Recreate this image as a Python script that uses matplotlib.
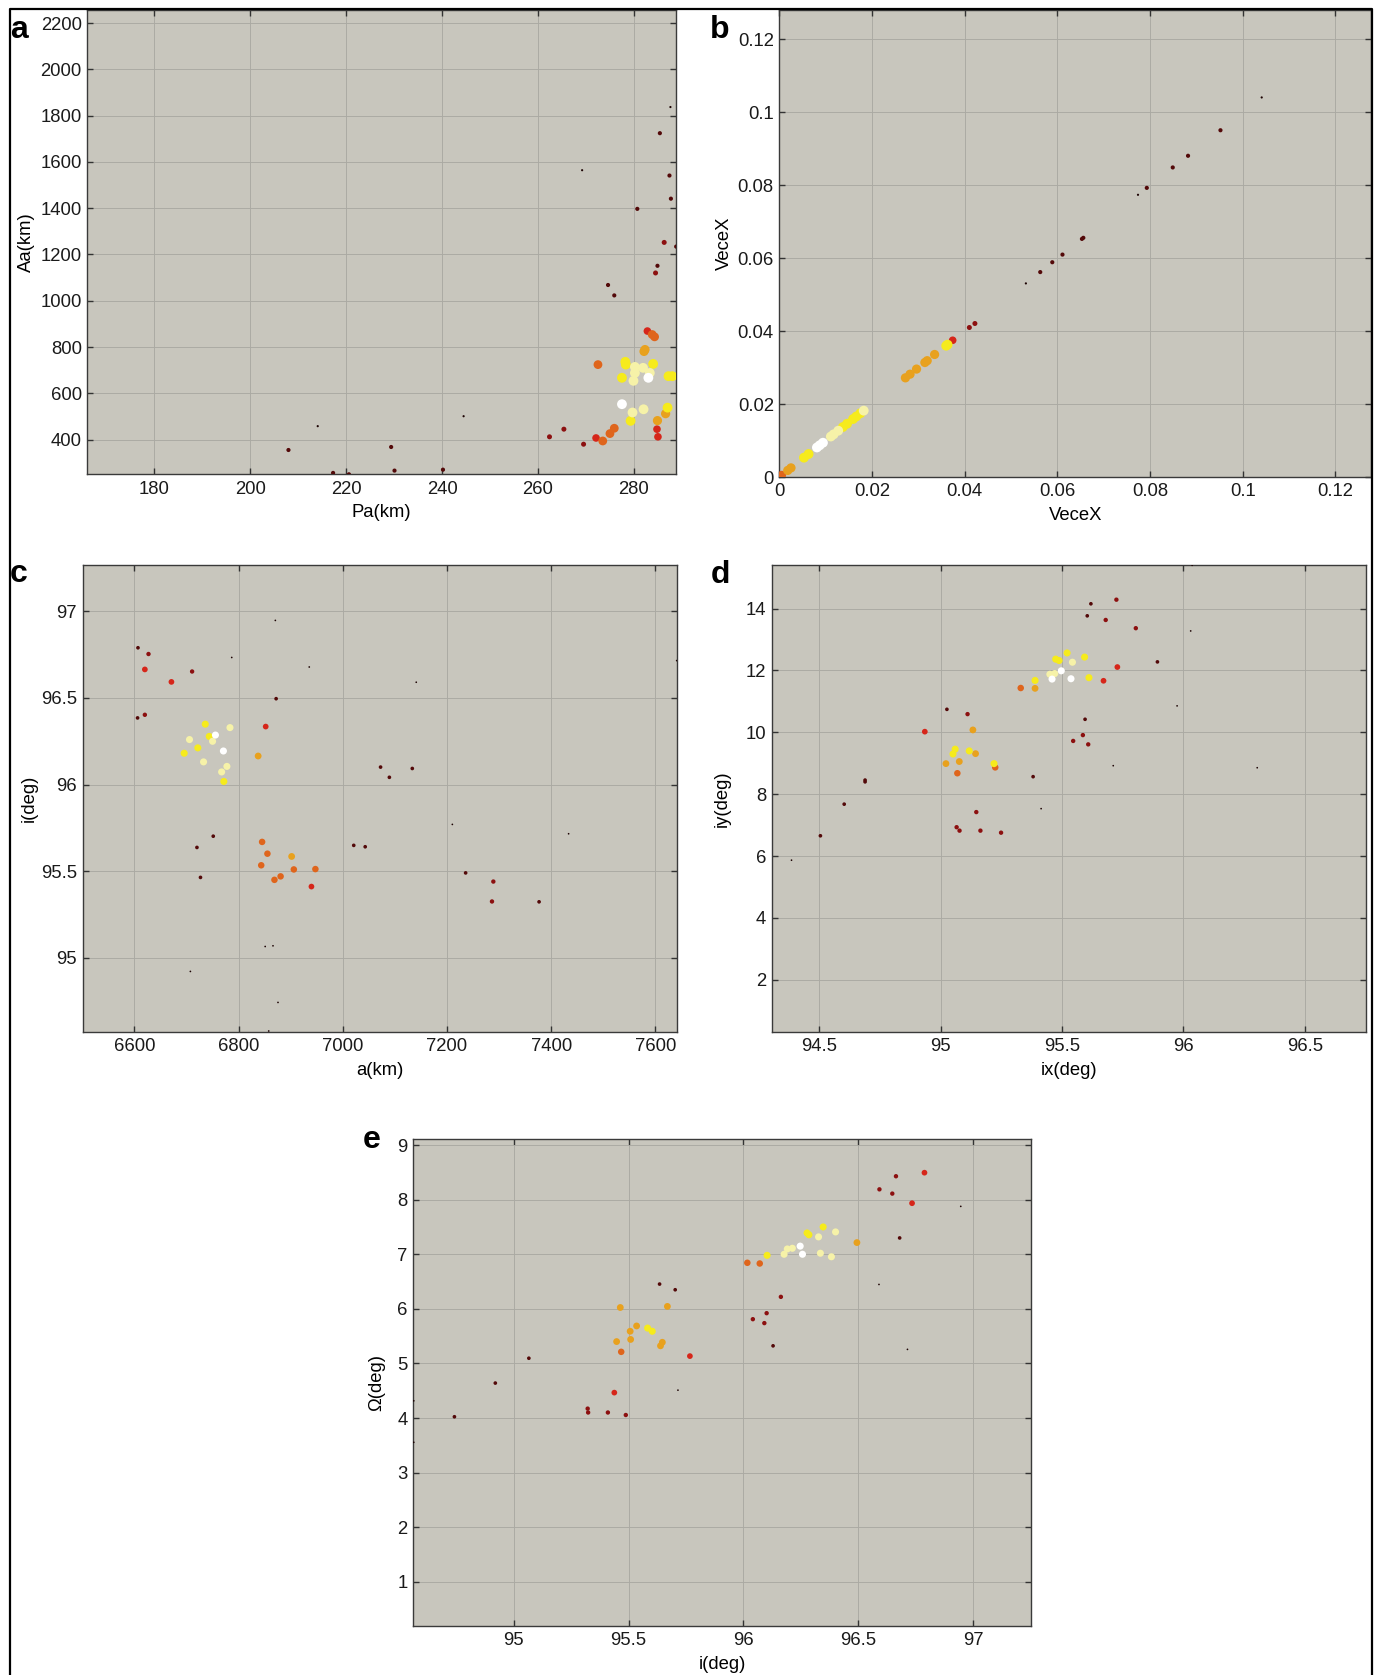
import matplotlib
matplotlib.use("Agg")
import matplotlib.pyplot as plt
from matplotlib.lines import Line2D
import numpy as np

plt.rcParams['font.family'] = ['Liberation Sans', 'DejaVu Sans']

# ---------------- data ----------------
# level: 0 = tiny black ... 8 = white (hot-like colour scale)
a_pa = [287.6, 285.4, 269.2, 287.4, 287.7, 280.7, 286.3, 288.8, 284.9, 284.5, 274.6, 275.9,
        282.8, 283.8, 284.3, 282.1, 282.3, 272.5, 278.2, 278.3, 284.0, 280.2, 281.9, 280.2,
        283.3, 277.5, 283.0, 279.9, 287.2, 288.0, 277.5, 279.7, 282.0, 279.3, 287.0, 286.6,
        284.9, 284.8, 285.0, 275.9, 275.0, 273.5, 272.1, 269.5, 265.4, 262.4, 244.5, 240.2,
        230.1, 229.4, 214.1, 208.0, 217.3, 220.6]
a_aa = [1837, 1724, 1564, 1541, 1441, 1397, 1252, 1234, 1151, 1120, 1068, 1023,
        869, 854, 844, 781, 789, 724, 736, 724, 727, 714, 710, 688,
        688, 667, 667, 654, 674, 674, 553, 517, 531, 481, 538, 512,
        482, 445, 412, 449, 426, 394, 407, 380, 445, 412, 501, 270,
        266, 368, 458, 355, 256, 250]
a_lvl = [0, 1, 0, 1, 1, 1, 2, 1, 1, 2, 1, 1,
         3, 4, 4, 5, 5, 4, 6, 6, 6, 7, 7, 7,
         7, 6, 8, 7, 6, 6, 8, 7, 7, 6, 6, 5,
         5, 3, 3, 4, 4, 4, 3, 2, 2, 2, 0, 1,
         1, 1, 0, 1, 1, 1]

b_vx = [0.1041, 0.0952, 0.0882, 0.0849, 0.0793, 0.0774, 0.0656, 0.0653, 0.0611, 0.0589,
        0.0563, 0.0532, 0.0422, 0.0410, 0.0374, 0.0363, 0.0360, 0.0335, 0.0319, 0.0314,
        0.0296, 0.0282, 0.0272, 0.0182, 0.0175, 0.0166, 0.0159, 0.0146, 0.0137, 0.0127,
        0.0117, 0.0111, 0.0094, 0.0087, 0.0081, 0.0063, 0.0053, 0.0025, 0.0018, 0.0005]
b_vy = [0.1041, 0.0951, 0.0881, 0.0849, 0.0793, 0.0774, 0.0656, 0.0653, 0.0610, 0.0589,
        0.0562, 0.0531, 0.0421, 0.0410, 0.0375, 0.0363, 0.0360, 0.0336, 0.0319, 0.0314,
        0.0296, 0.0282, 0.0272, 0.0182, 0.0175, 0.0166, 0.0159, 0.0146, 0.0137, 0.0127,
        0.0117, 0.0111, 0.0094, 0.0087, 0.0081, 0.0063, 0.0053, 0.0025, 0.0018, 0.0005]
b_lvl = [0, 1, 1, 1, 1, 0, 1, 1, 1, 1,
         1, 0, 2, 2, 3, 6, 6, 5, 5, 5,
         5, 5, 5, 7, 6, 6, 6, 6, 6, 7,
         7, 7, 8, 8, 8, 6, 6, 5, 5, 4]

c_a = [6870.5, 6606.8, 6627.0, 6620.0, 6710.7, 6671.0, 6786.8, 6935.6, 7141.0, 6872.0,
       6606.0, 6620.0, 6852.0, 6736.0, 6755.5, 6783.4, 6743.6, 6750.0, 6705.7, 6721.7,
       6770.8, 6695.5, 6837.5, 6732.7, 6777.5, 6767.4, 6771.6, 7072.5, 7089.4, 7133.4,
       7210.3, 7433.5, 6751.3, 6720.0, 6726.8, 6845.1, 6855.3, 6843.4, 6901.8, 6906.0,
       6880.6, 6868.8, 6947.4, 6939.8, 7021.0, 7043.0, 7235.8, 7289.0, 7286.4, 7376.8,
       6851.0, 6866.0, 6707.4, 6875.6, 6857.8, 7641.0]
c_i = [96.948, 96.790, 96.754, 96.665, 96.653, 96.593, 96.734, 96.679, 96.591, 96.496,
       96.385, 96.403, 96.335, 96.349, 96.286, 96.329, 96.278, 96.250, 96.260, 96.212,
       96.194, 96.181, 96.165, 96.131, 96.105, 96.073, 96.018, 96.101, 96.042, 96.093,
       95.770, 95.716, 95.702, 95.637, 95.464, 95.669, 95.601, 95.534, 95.585, 95.510,
       95.470, 95.450, 95.512, 95.411, 95.649, 95.641, 95.490, 95.440, 95.325, 95.323,
       95.065, 95.069, 94.921, 94.742, 94.577, 96.716]
c_lvl = [0, 1, 2, 3, 2, 3, 0, 0, 0, 1,
         1, 2, 3, 6, 8, 7, 6, 7, 7, 6,
         8, 6, 5, 7, 7, 7, 6, 1, 1, 1,
         0, 0, 1, 1, 1, 4, 4, 4, 5, 4,
         4, 4, 4, 3, 1, 1, 1, 2, 2, 1,
         0, 0, 0, 0, 0, 0]

d_ix = [95.619, 95.724, 95.604, 95.680, 95.804, 96.030, 95.893, 95.728, 95.671, 95.521,
        95.593, 95.474, 95.488, 95.543, 95.497, 95.470, 95.450, 95.459, 95.537, 95.611,
        95.389, 95.389, 95.330, 95.026, 95.111, 94.935, 95.133, 95.974, 95.595, 95.586,
        95.546, 95.608, 95.060, 95.051, 95.118, 95.144, 95.077, 95.022, 95.220, 95.225,
        95.069, 95.711, 96.304, 95.381, 94.689, 94.689, 94.603, 95.414, 95.147, 95.066,
        95.078, 95.164, 95.249, 94.505, 94.386, 96.036]
d_iy = [14.156, 14.289, 13.767, 13.633, 13.367, 13.278, 12.278, 12.111, 11.667, 12.567,
        12.433, 12.367, 12.322, 12.267, 11.989, 11.900, 11.878, 11.722, 11.733, 11.767,
        11.678, 11.422, 11.433, 10.744, 10.589, 10.022, 10.078, 10.856, 10.422, 9.911,
        9.722, 9.611, 9.456, 9.300, 9.400, 9.311, 9.056, 8.989, 8.989, 8.867,
        8.678, 8.922, 8.856, 8.567, 8.456, 8.400, 7.678, 7.533, 7.422, 6.933,
        6.822, 6.822, 6.756, 6.656, 5.867, 15.400]
d_lvl = [1, 2, 1, 2, 2, 0, 1, 3, 3, 6,
         6, 6, 6, 7, 8, 7, 7, 8, 8, 6,
         6, 5, 4, 1, 2, 3, 5, 0, 1, 2,
         2, 2, 6, 6, 6, 5, 5, 5, 6, 4,
         4, 0, 0, 1, 1, 1, 1, 0, 2, 2,
         2, 2, 2, 1, 0, 0]

e_i = [96.788, 96.664, 96.592, 96.648, 96.734, 96.946, 96.680, 96.494, 96.347, 96.277,
       96.285, 96.327, 96.401, 96.247, 96.257, 96.213, 96.191, 96.177, 96.103, 96.335,
       96.383, 96.017, 96.071, 96.590, 95.635, 95.703, 96.163, 95.464, 95.669, 96.101,
       96.041, 96.091, 96.129, 96.714, 95.535, 95.583, 95.603, 95.507, 95.448, 95.509,
       95.647, 95.639, 95.468, 95.767, 95.066, 94.920, 95.715, 95.438, 95.322, 95.324,
       95.410, 95.488, 94.742, 94.565, 94.565]
e_om = [8.493, 8.428, 8.188, 8.110, 7.934, 7.876, 7.298, 7.213, 7.499, 7.389,
        7.356, 7.317, 7.408, 7.148, 6.999, 7.109, 7.096, 6.999, 6.979, 7.018,
        6.953, 6.843, 6.830, 6.446, 6.453, 6.349, 6.219, 6.024, 6.044, 5.920,
        5.810, 5.738, 5.322, 5.257, 5.686, 5.647, 5.589, 5.589, 5.400, 5.439,
        5.387, 5.322, 5.212, 5.134, 5.095, 4.640, 4.510, 4.465, 4.172, 4.101,
        4.101, 4.055, 4.023, 4.315, 3.555]
e_lvl = [3, 2, 2, 2, 3, 0, 1, 5, 6, 6,
         6, 7, 7, 8, 8, 7, 7, 7, 6, 7,
         7, 4, 4, 0, 1, 1, 2, 5, 5, 2,
         2, 2, 1, 0, 5, 6, 6, 5, 5, 5,
         5, 5, 4, 3, 1, 1, 0, 3, 2, 2,
         2, 2, 1, 0, 0]

# tick values / labels
a_xticks = [180, 200, 220, 240, 260, 280]
a_yticks = [400, 600, 800, 1000, 1200, 1400, 1600, 1800, 2000, 2200]
b_ticks = [0, 0.02, 0.04, 0.06, 0.08, 0.1, 0.12]
b_ticklabels = ['0', '0.02', '0.04', '0.06', '0.08', '0.1', '0.12']
c_xticks = [6600, 6800, 7000, 7200, 7400, 7600]
c_yticks = [95, 95.5, 96, 96.5, 97]
c_yticklabels = ['95', '95.5', '96', '96.5', '97']
d_xticks = [94.5, 95, 95.5, 96, 96.5]
d_xticklabels = ['94.5', '95', '95.5', '96', '96.5']
d_yticks = [2, 4, 6, 8, 10, 12, 14]
e_xticks = [95, 95.5, 96, 96.5, 97]
e_xticklabels = ['95', '95.5', '96', '96.5', '97']
e_yticks = [1, 2, 3, 4, 5, 6, 7, 8, 9]

# ---------------- style ----------------
LEVEL_COLORS = ['#1c0303', '#530909', '#8c1010', '#d6261a', '#df651c',
                '#e8a11e', '#f6eb1c', '#f6f2a8', '#ffffff']
SIZES_SMALL = [1.5, 7, 10, 17, 22, 24, 26, 26, 26]
SIZES_BIG = [2.5, 9, 13, 30, 40, 44, 50, 50, 50]
BG = '#c8c6bd'
GRID = '#aaa9a2'
FS = 13.3
XPAD = 5

W, H = 1380, 1675
fig = plt.figure(figsize=(W / 100, H / 100), dpi=100)
fig.patch.set_facecolor('white')


def rect(l, r, t, b):
    return [l / W, 1 - b / H, (r - l) / W, (b - t) / H]


def style(ax):
    ax.set_facecolor(BG)
    ax.grid(True, color=GRID, linewidth=0.65)
    ax.set_axisbelow(True)
    for s in ax.spines.values():
        s.set_color('#3a3a3a')
        s.set_linewidth(1.0)
    ax.tick_params(direction='in', length=4, width=1.0, color='#333333',
                   top=True, right=True, labelsize=FS, labelcolor='#1a1a1a')
    ax.tick_params(axis='x', pad=4.5)
    ax.tick_params(axis='y', pad=4)


def scatter(ax, x, y, lvl, sizes):
    x = np.asarray(x); y = np.asarray(y); lvl = np.asarray(lvl)
    order = np.argsort(lvl, kind='stable')
    cols = [LEVEL_COLORS[k] for k in lvl[order]]
    ss = [sizes[k] for k in lvl[order]]
    ax.scatter(x[order], y[order], s=ss, c=cols, linewidths=0, zorder=3)


# panel a
ax = fig.add_axes(rect(87.4, 675.7, 10.3, 474.3))
style(ax)
scatter(ax, a_pa, a_aa, a_lvl, SIZES_BIG)
ax.set_xlim(166.1, 288.7)
ax.set_ylim(250, 2255)
ax.set_xticks(a_xticks)
ax.set_yticks(a_yticks)
ax.set_xlabel('Pa(km)', fontsize=FS, labelpad=XPAD)
ax.set_ylabel('Aa(km)', fontsize=FS, labelpad=4)

# panel b
ax = fig.add_axes(rect(779.4, 1371.5, 10.3, 477.0))
style(ax)
scatter(ax, b_vx, b_vy, b_lvl, SIZES_BIG)
ax.set_xlim(0, 0.1278)
ax.set_ylim(0, 0.128)
ax.set_xticks(b_ticks, b_ticklabels)
ax.set_yticks(b_ticks, b_ticklabels)
ax.set_xlabel('VeceX', fontsize=FS, labelpad=XPAD)
ax.set_ylabel('VeceX', fontsize=FS, labelpad=3.5)

# panel c
ax = fig.add_axes(rect(82.5, 676.7, 565.0, 1031.7))
style(ax)
scatter(ax, c_a, c_i, c_lvl, SIZES_SMALL)
ax.set_xlim(6500.3, 7641)
ax.set_ylim(94.573, 97.268)
ax.set_xticks(c_xticks)
ax.set_yticks(c_yticks, c_yticklabels)
ax.set_xlabel('a(km)', fontsize=FS, labelpad=XPAD)
ax.set_ylabel('i(deg)', fontsize=FS, labelpad=2.5)

# panel d
ax = fig.add_axes(rect(771.6, 1366.0, 565.0, 1031.7))
style(ax)
scatter(ax, d_ix, d_iy, d_lvl, SIZES_SMALL)
ax.set_xlim(94.304, 96.752)
ax.set_ylim(0.322, 15.41)
ax.set_xticks(d_xticks, d_xticklabels)
ax.set_yticks(d_yticks)
ax.set_xlabel('ix(deg)', fontsize=FS, labelpad=XPAD)
ax.set_ylabel('iy(deg)', fontsize=FS, labelpad=10.5)

# panel e
ax = fig.add_axes(rect(413.3, 1030.6, 1139.0, 1625.5))
style(ax)
scatter(ax, e_i, e_om, e_lvl, SIZES_SMALL)
ax.set_xlim(94.563, 97.25)
ax.set_ylim(0.2, 9.11)
ax.set_xticks(e_xticks, e_xticklabels)
ax.set_yticks(e_yticks)
ax.set_xlabel('i(deg)', fontsize=FS, labelpad=XPAD)
ax.set_ylabel('Ω(deg)', fontsize=FS, labelpad=8.5)

# panel letters
for letter, px, py in [('a', 10, 38), ('b', 710, 38), ('c', 10, 582),
                       ('d', 711, 583), ('e', 363, 1148)]:
    fig.text(px / W, 1 - py / H, letter, fontsize=23, fontweight='bold',
             ha='left', va='baseline', color='black')

# outer frame (open at bottom)
fx = [9.5 / W, 9.5 / W, 1372 / W, 1372 / W]
fy = [0.0, 1 - 9 / H, 1 - 9 / H, 0.0]
fig.add_artist(Line2D(fx, fy, transform=fig.transFigure, color='black', linewidth=1.6))

fig.savefig('out.png', dpi=100, facecolor='white')
